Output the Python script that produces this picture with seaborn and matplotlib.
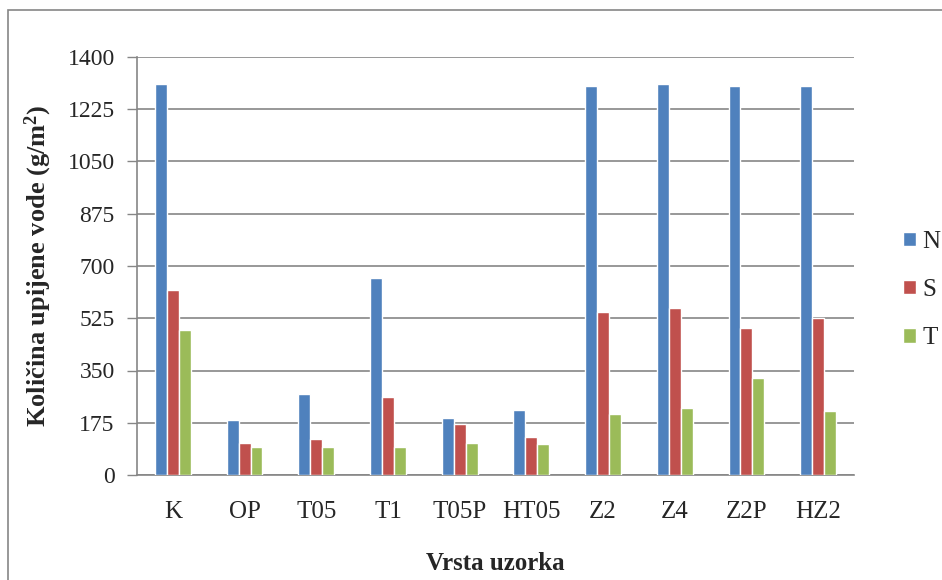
import matplotlib
matplotlib.use("Agg")
import matplotlib.pyplot as plt
import seaborn as sns
import pandas as pd
from matplotlib.patches import Rectangle

categories = ["K", "OP", "T05", "T1", "T05P", "HT05", "Z2", "Z4", "Z2P", "HZ2"]
series_names = ["N", "S", "T"]
N_values = [1308, 183, 270, 659, 190, 217, 1303, 1309, 1303, 1303]
S_values = [618, 108, 122, 262, 172, 128, 545, 558, 491, 526]
T_values = [484, 95, 95, 95, 108, 103, 203, 223, 324, 215]
y_ticks = [0, 175, 350, 525, 700, 875, 1050, 1225, 1400]
colors = ["#4F81BD", "#C0504D", "#9BBB59"]

rows = []
for name, vals in zip(series_names, [N_values, S_values, T_values]):
    for c, v in zip(categories, vals):
        rows.append({"cat": c, "series": name, "val": v})
df = pd.DataFrame(rows)

sns.set_style("white")
plt.rcParams["font.family"] = ["Liberation Serif", "DejaVu Serif"]
plt.rcParams["mathtext.fontset"] = "custom"
plt.rcParams["mathtext.rm"] = "Liberation Serif"
plt.rcParams["mathtext.bf"] = "Liberation Serif:bold"
plt.rcParams["mathtext.default"] = "bf"

fig = plt.figure(figsize=(9.42, 5.8), dpi=100)
ax = fig.add_axes([137/942, 1-475/580, (854-137)/942, (475-57)/580])

sns.barplot(data=df, x="cat", y="val", hue="series", hue_order=series_names,
            order=categories, palette=colors, width=0.5, ax=ax,
            saturation=1, errorbar=None, legend=True, zorder=3)

ax.set_ylim(0, 1400)
ax.set_yticks(y_ticks)
ax.set_yticklabels([str(t) for t in y_ticks], fontsize=17)
ax.tick_params(axis="x", labelsize=18, length=0, pad=19)
ax.tick_params(axis="y", length=7, width=1, color="#868686", direction="out", left=True, pad=9)
ax.yaxis.grid(True, color="#868686", linewidth=1.2, zorder=0)
ax.set_axisbelow(True)
for s in ["top", "right"]:
    ax.spines[s].set_visible(False)
for s in ["left", "bottom"]:
    ax.spines[s].set_color("#868686")
    ax.spines[s].set_linewidth(1.2)

ax.set_xlabel("")
ax.set_ylabel("")
fig.text(495/942, 1-563/580, "Vrsta uzorka", fontsize=18, fontweight="bold",
         ha="center", va="center")
fig.text(38/942, 1-266/580, "Količina upijene vode (g/m$^{2}$)", fontsize=19,
         fontweight="bold", rotation=90, ha="center", va="center")

handles, labels = ax.get_legend_handles_labels()
ax.get_legend().remove()
fig.legend(handles, labels, loc="center left", bbox_to_anchor=(903/942, 1-290/580),
           frameon=False, fontsize=18, handlelength=0.52, handleheight=0.52,
           handletextpad=0.25, labelspacing=1.05, borderaxespad=0, borderpad=0)

fig.patches.append(Rectangle((8/942, -0.1), 1.2, 1-10/580+0.1, transform=fig.transFigure,
                             fill=False, edgecolor="#868686", linewidth=1.2))

fig.savefig("out.png", dpi=100)
